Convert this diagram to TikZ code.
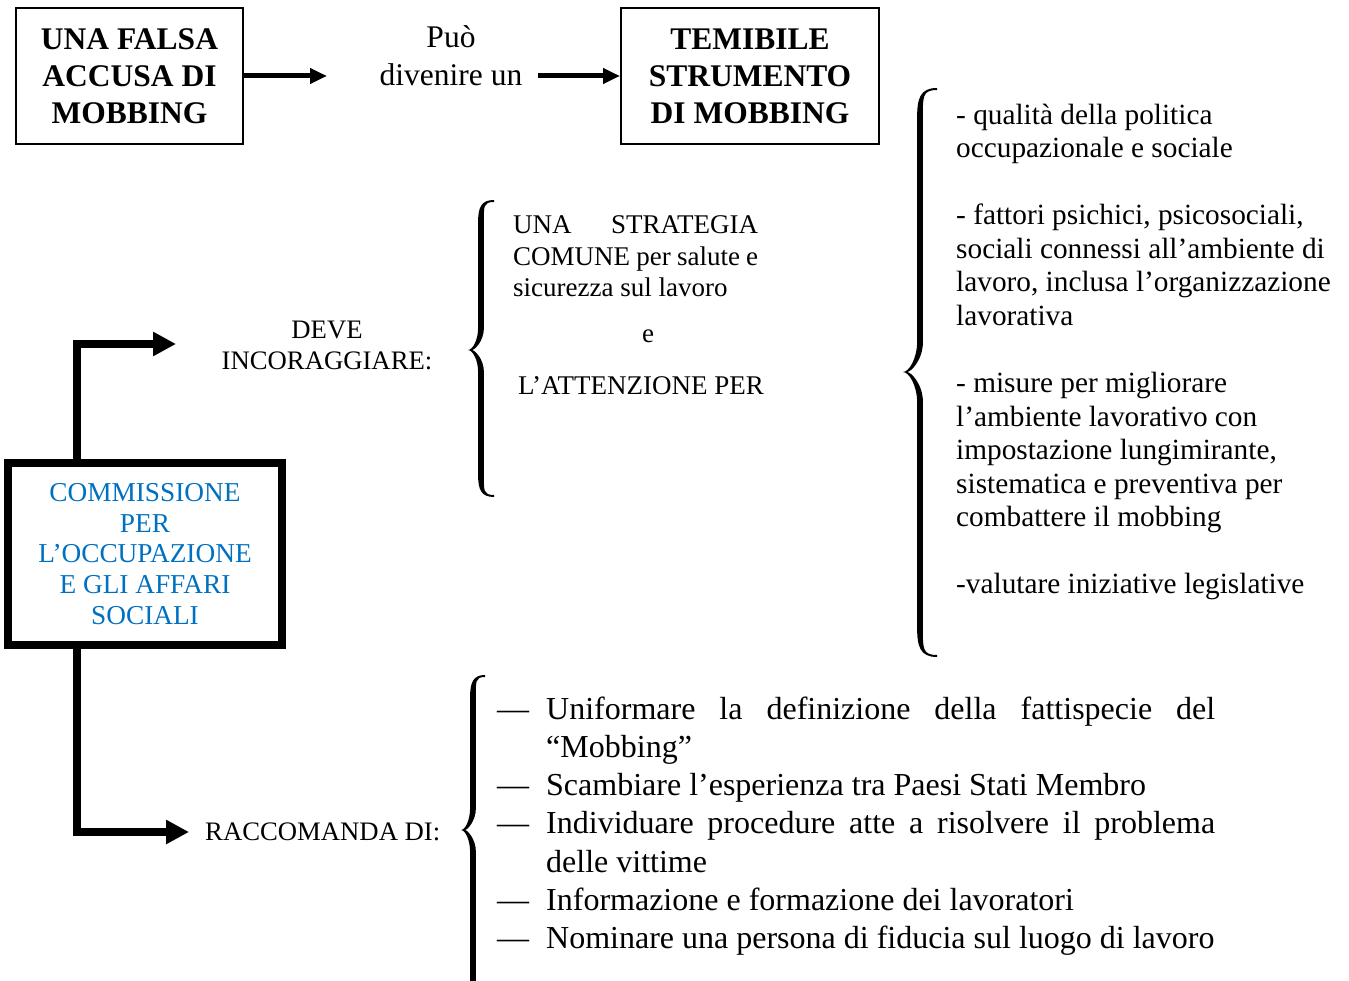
\documentclass[tikz,border=0pt]{standalone}
\usepackage{fontspec}
\setmainfont{Liberation Serif}
\usetikzlibrary{arrows.meta}
\definecolor{commblue}{HTML}{0070C0}

% Tapered curly brace opening to the right.
% #1 x of the curled ends, #2 x of the straight stem, #3 x of the tip,
% #4 top y, #5 tip y, #6 bottom y, #7 length of each curl
\newcommand\drawbrace[7]{%
  \begin{scope}
    \pgfmathsetmacro\bxo{#2-2.9}\pgfmathsetmacro\bxi{#2+2.9}
    \pgfmathsetmacro\bxt{#3+0.35*(#2-#3)}\pgfmathsetmacro\bxu{#3+4}
    \pgfmathsetmacro\byA{#4+#7}\pgfmathsetmacro\byB{#5-#7}
    \pgfmathsetmacro\byC{#5+#7}\pgfmathsetmacro\byD{#6-#7}
    \fill (#1,#4) .. controls (#2,#4) and (\bxo,{#4+0.35*#7}) .. (\bxo,\byA)
      -- (\bxo,\byB) .. controls (\bxo,{#5-0.45*#7}) and (\bxt,#5) .. (#3,#5)
      .. controls (\bxt,#5) and (\bxo,{#5+0.45*#7}) .. (\bxo,\byC)
      -- (\bxo,\byD) .. controls (\bxo,{#6-0.35*#7}) and (#2,#6) .. (#1,#6)
      -- (#1,{#6-2}) .. controls ({#2+2},{#6-2}) and (\bxi,{#6-0.3*#7}) .. (\bxi,\byD)
      -- (\bxi,\byC) .. controls (\bxi,{#5+0.4*#7}) and ({\bxt+2},#5) .. (\bxu,#5)
      .. controls ({\bxt+2},#5) and (\bxi,{#5-0.4*#7}) .. (\bxi,\byB)
      -- (\bxi,\byA) .. controls (\bxi,{#4+0.3*#7}) and ({#2+2},{#4+2}) .. (#1,{#4+2})
      -- cycle;
  \end{scope}}

\newcommand\justline[2]{\makebox[#1][s]{#2}}

\begin{document}
\begin{tikzpicture}[x=1pt,y=-1pt,
  titlebox/.style={draw, line width=2pt, minimum width=#1, minimum height=136pt,
    inner sep=0pt, align=center, font=\fontsize{31.5}{37}\selectfont\bfseries},
  commbox/.style={draw, line width=8pt, minimum width=274pt, minimum height=182pt,
    inner sep=0pt, align=center, text=commblue, font=\fontsize{27.3}{30.75}\selectfont},
  toptext/.style={inner sep=0pt, anchor=base, font=\fontsize{31.5}{37}\selectfont},
  midtext/.style={inner sep=0pt, anchor=base west, font=\fontsize{27}{31.5}\selectfont},
  verbtext/.style={inner sep=0pt, font=\fontsize{26.7}{31}\selectfont},
  righttext/.style={inner sep=0pt, anchor=base west, font=\fontsize{29.3}{33.5}\selectfont},
  listtext/.style={inner sep=0pt, anchor=base west, font=\fontsize{32}{38.3}\selectfont},
  thinarrow/.style={line width=5pt, -{Triangle[length=17pt,width=15pt]}},
  thickarrow/.style={line width=8pt, -{Triangle[length=23pt,width=23pt]}}]

\useasboundingbox (0,0) rectangle (1349,981);
\clip (0,0) rectangle (1349,981);

% ---------- top row ----------
\node[titlebox=227pt] (falsa) at (129.5,76) {UNA FALSA\\ACCUSA DI\\MOBBING};
\node[titlebox=258pt] (temibile) at (750,76) {TEMIBILE\\STRUMENTO\\DI MOBBING};
\node[toptext] (puo) at (451,48) {Può};
\node[toptext] (divenire) at (451,86) {divenire un};
\coordinate (falsatip) at (327,76);
\coordinate (divenireout) at (538,76);
\draw[thinarrow] (falsa.east) -- (falsatip);
\draw[thinarrow] (divenireout) -- (temibile.west);

% ---------- commission and its two branches ----------
\node[commbox] (comm) at (145,554)
  {COMMISSIONE\\PER\\L’OCCUPAZIONE\\E GLI AFFARI\\SOCIALI};
\coordinate (stem) at (77,0);
\coordinate (devetip) at (176,344);
\coordinate (racctip) at (189,832);
\draw[thickarrow] (comm.north -| stem) |- (devetip);
\draw[thickarrow] (comm.south -| stem) |- (racctip);

\node[verbtext, anchor=base] (deve) at (327,339) {DEVE};
\node[verbtext, anchor=base] (incoraggiare) at (327,370) {INCORAGGIARE:};
\node[verbtext, anchor=base west] (raccomanda) at (205,840) {RACCOMANDA DI:};

% ---------- what must be encouraged ----------
\drawbrace{494}{481}{468}{200}{350}{497}{22}
\node[midtext] (strat1) at (513,234) {\justline{245pt}{UNA STRATEGIA}};
\node[midtext] (strat2) at (513,265.5) {\justline{245pt}{COMUNE per salute e}};
\node[midtext] (strat3) at (513,297) {sicurezza sul lavoro};
\node[midtext, anchor=base] (conj) at (648,343) {e};
\node[midtext] (attenz) at (518,394) {L’ATTENZIONE PER};

\drawbrace{937}{920}{903}{88}{372}{657}{30}
\foreach \k/\t in {0/{- qualità della politica},1/{occupazionale e sociale},
    3/{- fattori psichici, psicosociali,},4/{sociali connessi all’ambiente di},
    5/{lavoro, inclusa l’organizzazione},6/{lavorativa},
    8/{- misure per migliorare},9/{l’ambiente lavorativo con},
    10/{impostazione lungimirante,},11/{sistematica e preventiva per},
    12/{combattere il mobbing},14/{-valutare iniziative legislative}}
  \node[righttext] (attn\k) at (956,{124.5+33.5*\k}) {\t};

% ---------- recommendations ----------
\drawbrace{485}{473}{461}{675}{830}{1010}{22}
\foreach \k in {0,2,3,5,6}
  \node[listtext] (dash\k) at (497,{719+38.3*\k}) {—};
\node[listtext] (rec0) at (546,719) {\justline{669pt}{Uniformare la definizione della fattispecie del}};
\node[listtext] (rec1) at (546,{719+38.3}) {“Mobbing”};
\node[listtext] (rec2) at (546,{719+38.3*2}) {Scambiare l’esperienza tra Paesi Stati Membro};
\node[listtext] (rec3) at (546,{719+38.3*3}) {\justline{669pt}{Individuare procedure atte a risolvere il problema}};
\node[listtext] (rec4) at (546,{719+38.3*4}) {delle vittime};
\node[listtext] (rec5) at (546,{719+38.3*5}) {Informazione e formazione dei lavoratori};
\node[listtext] (rec6) at (546,{719+38.3*6}) {Nominare una persona di fiducia sul luogo di lavoro};

\end{tikzpicture}
\end{document}
